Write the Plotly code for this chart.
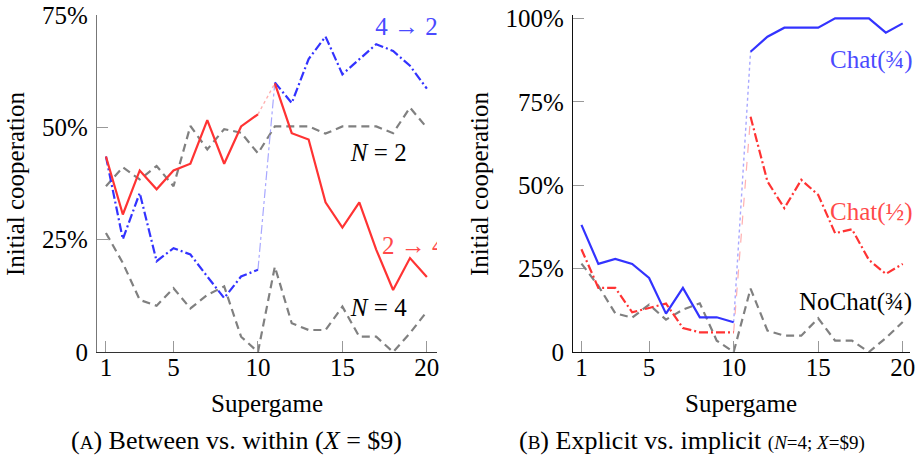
import plotly.graph_objects as go

supergames = list(range(1, 21))

# Panel A (percent)
n2_between = [36.9, 41.1, 38.4, 41.4, 36.9, 50.3, 45.1, 49.6, 48.8, 44.2,
              50.2, 50.2, 50.2, 48.6, 50.2, 50.2, 50.2, 48.7, 54.4, 49.9]
n4_between = [26.5, 19.8, 11.6, 10.3, 14.2, 9.7, 12.7, 14.6, 3.4, 0.0,
              19.0, 6.4, 4.9, 4.9, 10.1, 3.4, 3.4, 0.0, 4.2, 9.0]
within_2to4 = [43.5, 30.6, 40.4, 36.2, 40.4, 41.9, 51.6, 41.9, 50.2, 52.9,
               59.8, 48.7, 47.3, 33.3, 27.7, 33.3, 22.8, 13.8, 20.9, 16.7]
within_4to2 = [43.5, 25.1, 35.4, 20.2, 23.1, 21.7, 16.8, 12.0, 16.8, 18.3,
               60.0, 55.4, 65.2, 70.2, 61.8, 65.2, 68.5, 67.0, 63.7, 58.6]

# Panel B (percent)
chat_34 = [38.1, 26.4, 27.9, 26.4, 22.2, 11.5, 19.2, 10.4, 10.4, 8.9,
           90.0, 94.5, 97.2, 97.2, 97.2, 100.0, 100.0, 100.0, 95.7, 98.5]
chat_12 = [30.8, 19.2, 19.2, 11.9, 13.2, 14.5, 7.2, 5.9, 5.9, 5.9,
           70.5, 51.1, 43.1, 51.6, 47.1, 35.6, 36.8, 27.6, 23.4, 26.4]
nochat_34 = [26.5, 19.8, 11.6, 10.3, 14.2, 9.7, 12.7, 14.6, 3.4, 0.0,
             19.0, 6.4, 4.9, 4.9, 10.1, 3.4, 3.4, 0.0, 4.2, 9.0]

x_ticks = [1, 5, 10, 15, 20]
yA_ticks = [0, 25, 50, 75]
yA_text = ["0", "25%", "50%", "75%"]
yB_ticks = [0, 25, 50, 75, 100]
yB_text = ["0", "25%", "50%", "75%", "100%"]

FONT = "Liberation Serif"
FS = 25
BLUE = "#3333ff"
RED = "#ff3333"
GRAY = "#808080"
LBLUE = "#a8a8ff"
LRED = "#ffb0b0"
DASHDOT = "9px,3px,2px,3px"
DASH = "8px,5px"

fig = go.Figure()


def add_split(xa, ya, vals, color, dash, conn_color, conn_dash, conn_w):
    x1, y1 = supergames[:10], vals[:10]
    x2, y2 = supergames[10:], vals[10:]
    fig.add_trace(go.Scatter(x=supergames[9:11], y=vals[9:11], mode="lines",
                             line=dict(color=conn_color, width=conn_w, dash=conn_dash),
                             xaxis=xa, yaxis=ya, showlegend=False, hoverinfo="skip"))
    for xs, ys in ((x1, y1), (x2, y2)):
        fig.add_trace(go.Scatter(x=xs, y=ys, mode="lines",
                                 line=dict(color=color, width=2.2, dash=dash),
                                 xaxis=xa, yaxis=ya, showlegend=False))


# Panel A
for vals in (n2_between, n4_between):
    fig.add_trace(go.Scatter(x=supergames, y=vals, mode="lines",
                             line=dict(color=GRAY, width=2.2, dash=DASH),
                             xaxis="x", yaxis="y", showlegend=False))
add_split("x", "y", within_4to2, BLUE, DASHDOT, LBLUE, "dashdot", 1.2)
add_split("x", "y", within_2to4, RED, "solid", LRED, "dot", 1.4)

# Panel B
fig.add_trace(go.Scatter(x=supergames, y=nochat_34, mode="lines",
                         line=dict(color=GRAY, width=2.2, dash=DASH),
                         xaxis="x2", yaxis="y2", showlegend=False))
add_split("x2", "y2", chat_12, RED, DASHDOT, LRED, "dash", 1.2)
add_split("x2", "y2", chat_34, BLUE, "solid", LBLUE, "dot", 1.4)

# In-plot labels for panel A (clipped at the plot area)
labA_x = [16.95, 17.35, 15.5, 15.5]
labA_y = [71.9, 23.2, 44.0, 9.4]
labA_t = ["4 \u2192 2", "2 \u2192 4", "<i>N</i> = 2", "<i>N</i> = 4"]
labA_c = ["#4a4aff", "#ff4a4a", "#000000", "#000000"]
fig.add_trace(go.Scatter(x=labA_x, y=labA_y, text=labA_t, mode="text",
                         textposition="middle right",
                         textfont=dict(family=FONT, size=FS, color=labA_c),
                         cliponaxis=True, xaxis="x", yaxis="y",
                         showlegend=False, hoverinfo="skip"))

# Panel B labels
labB_x = [15.57, 15.57, 13.73]
labB_y = [87.5, 42.0, 15.1]
labB_t = ["Chat(\u00be)", "Chat(\u00bd)", "NoChat(\u00be)"]
labB_c = ["#4a4aff", "#ff4a4a", "#000000"]
for x, y, t, c in zip(labB_x, labB_y, labB_t, labB_c):
    fig.add_annotation(x=x, y=y, xref="x2", yref="y2", text=t, showarrow=False,
                       xanchor="left", yanchor="middle",
                       font=dict(family=FONT, size=FS, color=c))

H = 461
W = 918
ydom = [1 - 352 / H, 1 - 15 / H]

axis_common = dict(showgrid=False, zeroline=False, ticks="inside", ticklen=11,
                   tickwidth=1.2, tickcolor="#999999", showline=True,
                   tickfont=dict(family=FONT, size=FS, color="#000"),
                   automargin=False)

fig.update_layout(
    width=W, height=H,
    margin=dict(l=0, r=0, t=0, b=0),
    paper_bgcolor="white", plot_bgcolor="white",
    xaxis=dict(domain=[97 / W, 437 / W], range=[0.47, 20.6], tickvals=x_ticks,
               linecolor="#333333", linewidth=1.2, anchor="y",
               ticklabelstandoff=-7, **axis_common),
    yaxis=dict(domain=ydom, range=[0, 75], tickvals=yA_ticks, ticktext=yA_text,
               linecolor="#777777", linewidth=1.2, anchor="x",
               ticklabelstandoff=3, **axis_common),
    xaxis2=dict(domain=[573 / W, 910 / W], range=[0.5, 20.43], tickvals=x_ticks,
                linecolor="#111111", linewidth=1.2, anchor="y2",
                ticklabelstandoff=-7, **axis_common),
    yaxis2=dict(domain=ydom, range=[0, 101], tickvals=yB_ticks, ticktext=yB_text,
                linecolor="#111111", linewidth=1.2, anchor="x2",
                ticklabelstandoff=3, **axis_common),
)

# Axis titles and captions
def ann(x, y, text, size=FS, angle=0):
    fig.add_annotation(x=x / W, y=1 - y / H, xref="paper", yref="paper", text=text,
                       showarrow=False, textangle=angle, xanchor="center", yanchor="middle",
                       font=dict(family=FONT, size=size, color="#000"))

ann(15, 184, "Initial cooperation", angle=-90)
ann(479, 184, "Initial cooperation", angle=-90)
ann(267, 403, "Supergame")
ann(741, 403, "Supergame")
ann(236, 440, "(<span style=\"font-size:19px\">A</span>) Between vs. within (<i>X</i> = $9)", size=26)
ann(692, 440, "(<span style=\"font-size:19px\">B</span>) Explicit vs. implicit "
              "<span style=\"font-size:19px\">(<i>N</i>=4; <i>X</i>=$9)</span>", size=26)

fig.write_html("out.html")
